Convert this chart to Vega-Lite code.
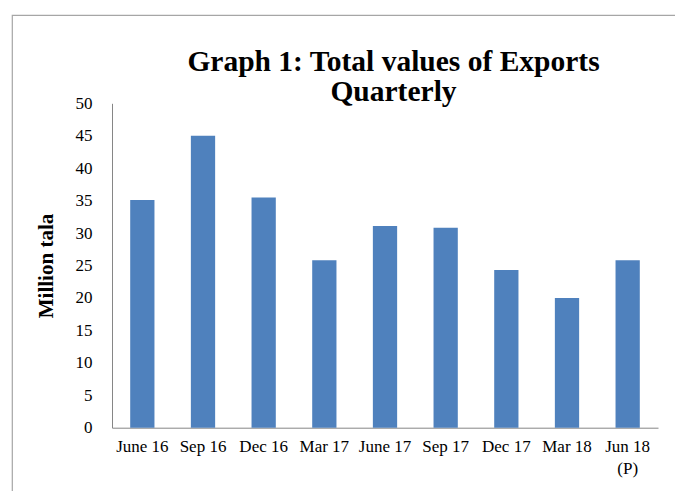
{
  "$schema": "https://vega.github.io/schema/vega-lite/v6.json",
  "autosize": {"type": "none"},
  "padding": {"left": 12, "top": 15, "right": 0, "bottom": 0},
  "width": 663,
  "height": 476,
  "background": "white",
  "title": {
    "text": ["Graph 1: Total values of Exports", "Quarterly"],
    "font": "Liberation Serif",
    "fontSize": 29.5,
    "fontWeight": "bold",
    "color": "#000000",
    "anchor": "middle",
    "lineHeight": 30,
    "offset": 0,
    "dx": 50,
    "dy": 92
  },
  "data": {
    "values": [
      {"quarter": "June 16", "value": 35.1},
      {"quarter": "Sep 16", "value": 45.0},
      {"quarter": "Dec 16", "value": 35.5},
      {"quarter": "Mar 17", "value": 25.8},
      {"quarter": "June 17", "value": 31.1},
      {"quarter": "Sep 17", "value": 30.8},
      {"quarter": "Dec 17", "value": 24.3},
      {"quarter": "Mar 18", "value": 20.0},
      {"quarter": "Jun 18 (P)", "value": 25.8}
    ]
  },
  "mark": {"type": "bar", "color": "#4F81BD"},
  "encoding": {
    "x": {
      "field": "quarter",
      "type": "nominal",
      "sort": null,
      "scale": {"range": [100, 646], "paddingInner": 0.6, "paddingOuter": 0.3},
      "axis": {
        "title": null,
        "offset": -63.3,
        "labelAngle": 0,
        "labelFont": "Liberation Serif",
        "labelFontSize": 17,
        "labelColor": "#000000",
        "labelPadding": 11,
        "labelLineHeight": 22,
        "labelExpr": "datum.value == 'Jun 18 (P)' ? ['Jun 18', '(P)'] : datum.value",
        "ticks": false,
        "tickSize": 0,
        "domainColor": "#868686",
        "grid": false
      }
    },
    "y": {
      "field": "value",
      "type": "quantitative",
      "scale": {"domain": [0, 50], "range": [412.7, 88.3], "nice": false},
      "axis": {
        "title": "Million tala",
        "titleFont": "Liberation Serif",
        "titleFontSize": 21,
        "titleFontWeight": "bold",
        "titleColor": "#000000",
        "titleAngle": 270,
        "titleAlign": "center",
        "titleBaseline": "middle",
        "titleX": -66,
        "offset": -100,
        "values": [0, 5, 10, 15, 20, 25, 30, 35, 40, 45, 50],
        "labelFont": "Liberation Serif",
        "labelFontSize": 17,
        "labelColor": "#000000",
        "labelPadding": 20,
        "ticks": false,
        "tickSize": 0,
        "domainColor": "#868686",
        "grid": false
      }
    }
  },
  "config": {
    "view": {"stroke": "#a6a6a6", "strokeWidth": 1.2, "strokeDash": [663, 1139, 476, 0]}
  }
}
